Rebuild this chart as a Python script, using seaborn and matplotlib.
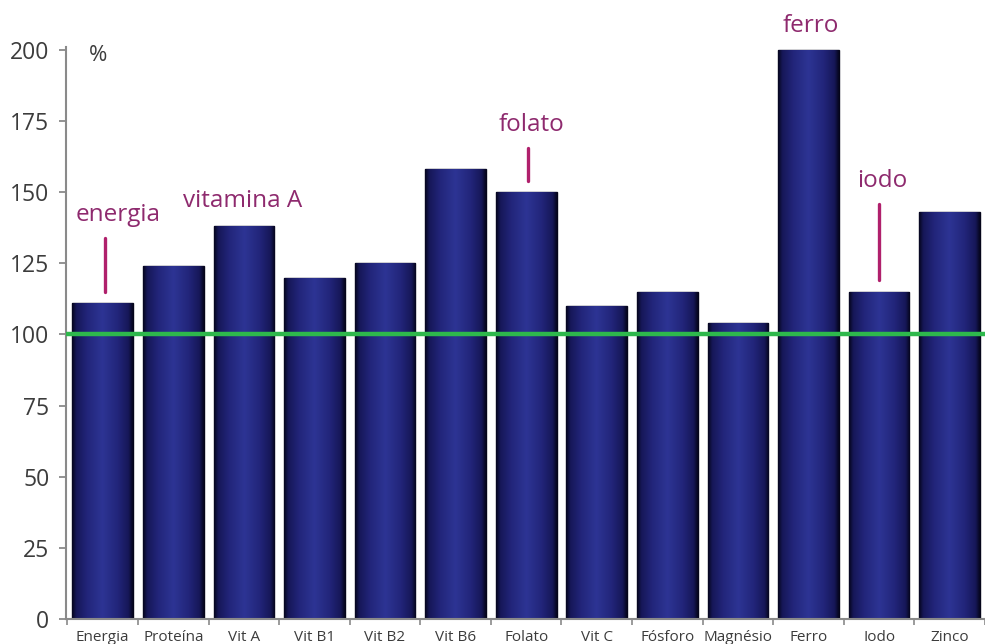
import matplotlib
matplotlib.use("Agg")
import matplotlib.pyplot as plt
import numpy as np
import pandas as pd
import seaborn as sns
from matplotlib.colors import LinearSegmentedColormap


NUTRIENTS = ["Energia", "Proteína", "Vit A", "Vit B1", "Vit B2", "Vit B6", "Folato",
             "Vit C", "Fósforo", "Magnésio", "Ferro", "Iodo", "Zinco"]
PERCENT = [111, 124, 138, 120, 125, 158, 150, 110, 115, 104, 200, 115, 143]

# annotation labels: text, text x, text y, line x, line top, line bottom (None = no line)
NOTE_TEXT = ["energia", "vitamina A", "folato", "ferro", "iodo"]
NOTE_X = [0.22, 1.98, 6.07, 10.03, 11.05]
NOTE_Y = [142, 147, 173.5, 208.5, 154]
LINE_X = [0.03, None, 6.03, None, 11.0]
LINE_TOP = [134, None, 165.5, None, 146]
LINE_BOTTOM = [115, None, 154, None, 119]

TICKS_Y = [0, 25, 50, 75, 100, 125, 150, 175, 200]

sns.set_theme(style="white")
plt.rcParams["font.family"] = ["Open Sans", "DejaVu Sans"]

fig = plt.figure(figsize=(9.85, 6.44), dpi=100)
ax = fig.add_axes([0.067, 0.0388, 0.933, 0.888])

df = pd.DataFrame({"nutriente": NUTRIENTS, "pct": PERCENT})
sns.barplot(data=df, x="nutriente", y="pct", color="#22247a", width=0.86,
            edgecolor="#05051a", linewidth=1.0, ax=ax, zorder=2)

# cylinder-like shading inside each bar
cyl = LinearSegmentedColormap.from_list(
    "cyl", [(0.0, "#05051c"), (0.07, "#161758"), (0.25, "#22257a"), (0.5, "#2d3494"),
            (0.75, "#22257a"), (0.93, "#161758"), (1.0, "#05051c")])
grad = np.linspace(0, 1, 256).reshape(1, -1)
for p in ax.patches:
    x0, y0 = p.get_x(), p.get_y()
    w, h = p.get_width(), p.get_height()
    im = ax.imshow(grad, cmap=cyl, aspect="auto", extent=(x0, x0 + w, y0, y0 + h),
                   zorder=2.1, interpolation="bicubic")
    im.set_clip_path(p)

ax.axhline(100, color="#2eb84c", linewidth=3.2, zorder=3)

ax.set_xlim(-0.52, 12.39)
ax.set_ylim(0, 201)
ax.set_yticks(TICKS_Y)
ax.set_xlabel("")
ax.set_ylabel("")

for s in ["top", "right"]:
    ax.spines[s].set_visible(False)
for s in ["left", "bottom"]:
    ax.spines[s].set_color("#8a8a8a")
    ax.spines[s].set_linewidth(1.5)

ax.tick_params(axis="y", which="major", left=True, length=5, width=1.3, color="#8a8a8a",
               labelsize=16.5, labelcolor="#3c3c3c", pad=7)
ax.tick_params(axis="x", which="major", bottom=False, labelsize=11, labelcolor="#3c3c3c", pad=2)
ax.set_xticks(np.arange(-0.5, len(NUTRIENTS), 1.0), minor=True)
ax.tick_params(axis="x", which="minor", bottom=True, length=4, width=1.2, color="#8a8a8a")

ax.text(-0.07, 198, "%", fontsize=16, color="#3c3c3c", ha="center", va="center")

for t, tx, ty, lx, lt, lb in zip(NOTE_TEXT, NOTE_X, NOTE_Y, LINE_X, LINE_TOP, LINE_BOTTOM):
    ax.text(tx, ty, t, fontsize=17.5, color="#8e2a6e", ha="center", va="center", clip_on=False)
    if lx is not None:
        ax.plot([lx, lx], [lt, lb], color="#b0206c", linewidth=2.4, zorder=4, clip_on=False)

fig.savefig("out.png", dpi=100)
